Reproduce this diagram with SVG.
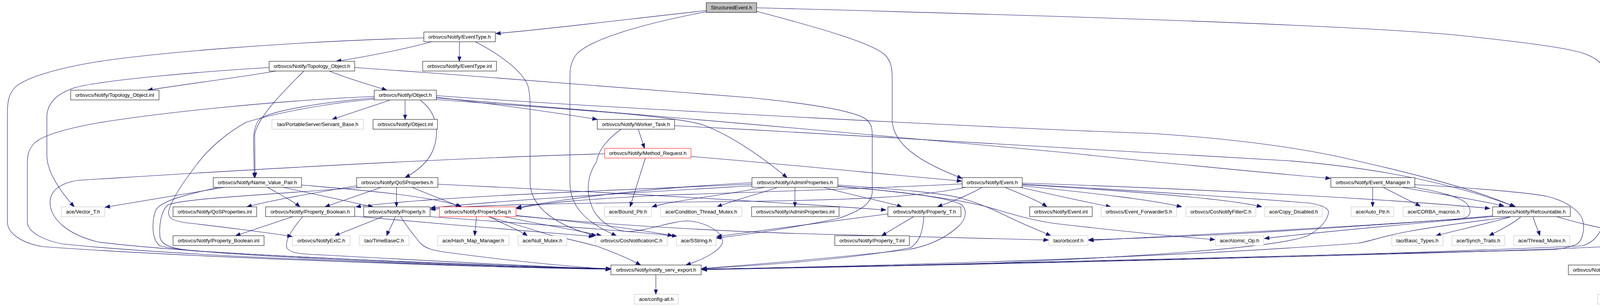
<svg xmlns="http://www.w3.org/2000/svg" width="4500" height="784" viewBox="0 0 4500 784">
<style>
.n rect{fill:#ffffff;stroke:#000000;stroke-width:1}
.g rect{stroke:#bfbfbf}
.r rect{stroke:#ff0000}
.root rect{fill:#bfbfbf}
text{font-family:"Liberation Sans",Arial,sans-serif;font-size:13.2px;text-anchor:middle;fill:#000000}
.e path{fill:none;stroke:#191970;stroke-width:1.1;marker-end:url(#a)}
</style>
<defs>
<marker id="a" markerUnits="userSpaceOnUse" markerWidth="14" markerHeight="11" refX="12.5" refY="4.75" orient="auto"><path d="M0,0L12.5,4.75L0,9.5z" fill="#191970" stroke="#191970" stroke-width="1"/></marker>
</defs>
<rect width="4500" height="784" fill="#ffffff"/>
<g id="connectors" class="e">
<path d="M1808,27 C1600,50 1400,75 1269,86"/>
<path d="M1808,30 C1650,60 1510,100 1475,140 C1461,160 1459,175 1459,200 L1459,470 C1460,530 1500,570 1578,604"/>
<path d="M1937,29 C2110,75 2230,110 2265,140 C2282,158 2284,175 2284,200 L2284,310 C2288,380 2380,425 2463,457"/>
<path d="M1937,20 C2500,35 3400,60 3720,89 C3900,108 4010,122 4055,137 C4090,150 4107,165 4107,190 L4107,545 C4106,590 4085,620 4050,630 C3400,660 2300,680 1796,690"/>
<path d="M1085,97 C700,108 380,138 250,158 C140,176 55,202 35,228 C22,244 19,262 19,290 L19,570 C20,600 60,624 110,632 C500,660 1200,684 1563,690"/>
<path d="M1105,107 C1040,125 940,145 861,157"/>
<path d="M1176,107 L1176,157"/>
<path d="M1217,107 C1290,145 1345,190 1353,225 C1357,245 1357,260 1357,280 L1357,470 C1360,530 1420,578 1526,604"/>
<path d="M707,182 C600,200 480,215 378,231"/>
<path d="M843,182 C900,205 950,218 990,231"/>
<path d="M778,182 C720,240 660,300 652,345 L653,455"/>
<path d="M689,173 C520,183 260,205 190,225 C140,242 120,268 120,300 L120,400 C121,440 150,485 190,530"/>
<path d="M908,173 C1300,200 1750,235 1918,250 C2120,270 2200,290 2220,308 C2233,320 2233,335 2233,350 L2233,490 C2233,520 2205,540 2145,560 C2000,590 1900,602 1834,610"/>
<path d="M958,247 C700,258 400,290 250,315 C150,333 100,352 85,370 C72,386 70,400 70,420 L70,570 C72,595 110,615 160,625 C500,660 1200,682 1563,689"/>
<path d="M958,251 C820,262 690,285 665,305 C652,320 649,340 649,360 L651,455"/>
<path d="M958,254 C860,262 720,285 631,313 C580,340 530,385 505,420 C470,465 440,510 432,540 C428,560 445,565 470,570 C560,580 700,598 748,606"/>
<path d="M997,257 L850,306"/>
<path d="M1037,257 L1037,306"/>
<path d="M1076,257 C1115,285 1125,330 1112,375 C1100,415 1065,440 1037,455"/>
<path d="M1117,249 C1250,265 1400,285 1529,306"/>
<path d="M1117,255 C1450,280 1720,295 1800,320 C1880,350 1960,410 2015,455"/>
<path d="M1117,245 C1600,280 2600,330 2950,342 C3150,355 3300,375 3420,400 C3600,440 3780,485 3877,530"/>
<path d="M1117,251 C1800,305 2500,370 2738,392 C3000,420 3300,448 3406,457"/>
<path d="M1634,331 C1640,350 1645,365 1650,380"/>
<path d="M1727,322 C2300,352 2900,385 3300,412 C3500,428 3700,462 3880,530"/>
<path d="M1590,331 C1550,360 1530,390 1527,415 C1500,455 1500,500 1520,540 C1540,575 1580,593 1610,593 C1660,591 1720,566 1760,566 C1800,568 1845,590 1850,615 C1852,640 1800,665 1756,679"/>
<path d="M1548,394 C1000,410 400,450 200,462 C150,470 128,490 128,520 C130,560 170,600 251,620 C500,652 1200,680 1563,688"/>
<path d="M1652,405 L1613,530"/>
<path d="M1769,401 C1950,415 2250,445 2462,464"/>
<path d="M574,480 L269,531"/>
<path d="M685,480 C720,500 750,515 768,530"/>
<path d="M725,480 L955,530"/>
<path d="M560,480 C470,500 410,515 398,540 C388,570 388,615 410,630 C480,650 1000,676 1563,690"/>
<path d="M772,474 C900,485 1100,500 1182,530"/>
<path d="M913,476 C800,495 700,512 632,530"/>
<path d="M976,480 L832,530"/>
<path d="M1015,480 L1015,530"/>
<path d="M926,480 C700,498 470,508 430,525 C412,540 406,580 410,610 C415,628 440,638 500,643 C900,668 1300,680 1563,690"/>
<path d="M1055,480 C1090,495 1130,510 1179,530"/>
<path d="M1121,472 C1500,490 1900,512 2268,538"/>
<path d="M750,555 L603,604"/>
<path d="M775,555 C745,590 728,620 735,636 C745,648 765,650 800,652 C1000,662 1300,680 1563,690"/>
<path d="M908,554 C1100,572 1400,595 1520,606"/>
<path d="M980,555 L857,604"/>
<path d="M1012,555 C1005,575 995,590 990,604"/>
<path d="M1026,555 C1040,580 1062,605 1075,622 C1090,638 1112,642 1140,646 C1300,668 1450,682 1563,690"/>
<path d="M1101,555 C1300,570 1600,590 1733,605"/>
<path d="M1220,555 L1215,604"/>
<path d="M1253,555 C1290,575 1330,590 1350,604"/>
<path d="M1291,555 C1380,575 1480,590 1540,604"/>
<path d="M1321,552 C1500,570 1650,590 1722,604"/>
<path d="M1250,555 C1320,575 1370,590 1400,600 C1450,612 1500,622 1534,633 C1580,650 1615,665 1640,679"/>
<path d="M1321,553 C1600,580 1900,595 2100,600 C2350,605 2550,610 2684,615"/>
<path d="M1925,468 C1700,480 1500,500 1322,532"/>
<path d="M1925,472 C1500,490 1100,505 911,530"/>
<path d="M1925,476 C1600,495 1300,512 1102,533"/>
<path d="M2463,471 C2250,482 1950,492 1700,500 C1500,510 1380,520 1322,535"/>
<path d="M2472,480 C2350,505 2200,512 1900,516 C1500,520 1200,524 1102,537"/>
<path d="M1957,480 C1850,500 1720,515 1669,530"/>
<path d="M1990,480 C1950,495 1880,512 1836,530"/>
<path d="M2035,480 L2035,530"/>
<path d="M2109,480 C2180,500 2260,515 2309,530"/>
<path d="M2145,474 C2300,485 2420,495 2465,509 C2520,525 2560,545 2580,555 C2620,575 2660,590 2690,604"/>
<path d="M2145,477 C2300,490 2450,510 2523,529 C2570,542 2620,560 2695,572 C2850,590 3000,605 3110,614"/>
<path d="M2145,478 C2300,490 2430,505 2462,525 C2478,540 2472,565 2451,582 C2420,610 2380,630 2322,640 C2100,665 1900,680 1797,688"/>
<path d="M2339,555 L2257,604"/>
<path d="M2365,555 C2363,590 2355,620 2330,635 C2200,660 2000,677 1797,688"/>
<path d="M2273,548 C2100,570 1950,590 1835,606"/>
<path d="M2514,480 C2480,500 2440,515 2400,530"/>
<path d="M2573,480 C2620,500 2660,515 2680,530"/>
<path d="M2612,480 C2700,500 2780,518 2844,530"/>
<path d="M2617,476 C2800,495 2950,512 3025,530"/>
<path d="M2617,473 C2900,490 3150,510 3230,530"/>
<path d="M2617,469 C3000,482 3500,505 3814,534"/>
<path d="M2617,472 C2950,490 3250,512 3350,520 C3390,526 3402,535 3401,545 C3398,565 3380,585 3350,603 C3300,625 3100,650 2500,676 C2200,684 1950,688 1797,689"/>
<path d="M3514,480 L3514,530"/>
<path d="M3541,480 C3570,495 3600,510 3636,528"/>
<path d="M3590,480 C3700,500 3800,515 3850,528"/>
<path d="M3621,473 C3750,480 3911,493 3960,503 C4010,515 4045,540 4052,565 C4058,590 4050,620 4034,627 C4010,636 3985,640 3962,640 C3500,655 2600,675 1797,690"/>
<path d="M3620,480 C3680,490 3740,505 3755,522 C3768,537 3765,552 3753,557 C3735,563 3720,563 3707,563 C3400,585 3000,605 2787,616"/>
<path d="M3821,553 C3700,565 3400,585 3200,597 C3050,605 2900,612 2787,614"/>
<path d="M3821,555 C3650,570 3400,592 3237,611"/>
<path d="M3866,556 C3750,570 3650,585 3605,593 C3540,605 3500,620 3477,623 C3000,660 2300,680 1797,690"/>
<path d="M3866,556 C3800,575 3720,592 3676,604"/>
<path d="M3893,556 C3870,575 3835,592 3812,604"/>
<path d="M3925,556 C3930,575 3938,590 3942,604"/>
<path d="M3985,555 C4050,575 4120,590 4210,604"/>
<path d="M4249,629 C4230,650 4210,665 4171,679"/>
<path d="M4297,629 C4320,650 4340,665 4372,679"/>
<path d="M4146,704 L4146,754"/>
<path d="M4144,630 C3900,645 2800,672 1797,691"/>
<path d="M1679,704 L1679,754"/>
</g>
<g id="n_SE" class="n root"><rect x="1808" y="7" width="129" height="25"/><text x="1872.5" y="24">StructuredEvent.h</text></g>
<g id="n_ET" class="n"><rect x="1085" y="82" width="183" height="25"/><text x="1176.5" y="99">orbsvcs/Notify/EventType.h</text></g>
<g id="n_ETI" class="n"><rect x="1082" y="157" width="189" height="25"/><text x="1176.5" y="174">orbsvcs/Notify/EventType.inl</text></g>
<g id="n_TO" class="n"><rect x="689" y="157" width="219" height="25"/><text x="798.5" y="174">orbsvcs/Notify/Topology_Object.h</text></g>
<g id="n_TOI" class="n"><rect x="181" y="231" width="226" height="25"/><text x="294" y="248">orbsvcs/Notify/Topology_Object.inl</text></g>
<g id="n_OB" class="n"><rect x="958" y="231" width="159" height="25"/><text x="1037.5" y="248">orbsvcs/Notify/Object.h</text></g>
<g id="n_SB" class="n g"><rect x="696" y="306" width="235" height="25"/><text x="813.5" y="323">tao/PortableServer/Servant_Base.h</text></g>
<g id="n_OBI" class="n"><rect x="955" y="306" width="165" height="25"/><text x="1037.5" y="323">orbsvcs/Notify/Object.inl</text></g>
<g id="n_WT" class="n"><rect x="1529" y="306" width="198" height="25"/><text x="1628" y="323">orbsvcs/Notify/Worker_Task.h</text></g>
<g id="n_MR" class="n r"><rect x="1548" y="380" width="221" height="25"/><text x="1658.5" y="397">orbsvcs/Notify/Method_Request.h</text></g>
<g id="n_NVP" class="n"><rect x="546" y="455" width="226" height="25"/><text x="659" y="472">orbsvcs/Notify/Name_Value_Pair.h</text></g>
<g id="n_QP" class="n"><rect x="913" y="455" width="208" height="25"/><text x="1017" y="472">orbsvcs/Notify/QoSProperties.h</text></g>
<g id="n_AP" class="n"><rect x="1925" y="455" width="220" height="25"/><text x="2035" y="472">orbsvcs/Notify/AdminProperties.h</text></g>
<g id="n_EV" class="n"><rect x="2463" y="455" width="154" height="25"/><text x="2540" y="472">orbsvcs/Notify/Event.h</text></g>
<g id="n_EM" class="n"><rect x="3407" y="455" width="215" height="25"/><text x="3514.5" y="472">orbsvcs/Notify/Event_Manager.h</text></g>
<g id="n_VT" class="n g"><rect x="157" y="530" width="111" height="25"/><text x="212.5" y="547">ace/Vector_T.h</text></g>
<g id="n_QPI" class="n"><rect x="443" y="530" width="214" height="25"/><text x="550" y="547">orbsvcs/Notify/QoSProperties.inl</text></g>
<g id="n_PB" class="n"><rect x="680" y="530" width="228" height="25"/><text x="794" y="547">orbsvcs/Notify/Property_Boolean.h</text></g>
<g id="n_PR" class="n"><rect x="931" y="530" width="170" height="25"/><text x="1016" y="547">orbsvcs/Notify/Property.h</text></g>
<g id="n_PS" class="n r"><rect x="1125" y="530" width="196" height="25"/><text x="1223" y="547">orbsvcs/Notify/PropertySeq.h</text></g>
<g id="n_BP" class="n g"><rect x="1547" y="530" width="121" height="25"/><text x="1607.5" y="547">ace/Bound_Ptr.h</text></g>
<g id="n_CTM" class="n g"><rect x="1691" y="530" width="208" height="25"/><text x="1795" y="547">ace/Condition_Thread_Mutex.h</text></g>
<g id="n_API" class="n"><rect x="1924" y="530" width="224" height="25"/><text x="2036" y="547">orbsvcs/Notify/AdminProperties.inl</text></g>
<g id="n_PT" class="n"><rect x="2273" y="530" width="187" height="25"/><text x="2366.5" y="547">orbsvcs/Notify/Property_T.h</text></g>
<g id="n_EVI" class="n"><rect x="2636" y="530" width="160" height="25"/><text x="2716" y="547">orbsvcs/Notify/Event.inl</text></g>
<g id="n_EFS" class="n g"><rect x="2819" y="530" width="193" height="25"/><text x="2915.5" y="547">orbsvcs/Event_ForwarderS.h</text></g>
<g id="n_CNF" class="n g"><rect x="3036" y="530" width="179" height="25"/><text x="3125.5" y="547">orbsvcs/CosNotifyFilterC.h</text></g>
<g id="n_CD" class="n g"><rect x="3238" y="530" width="147" height="25"/><text x="3311.5" y="547">ace/Copy_Disabled.h</text></g>
<g id="n_AUP" class="n g"><rect x="3459" y="530" width="109" height="25"/><text x="3513.5" y="547">ace/Auto_Ptr.h</text></g>
<g id="n_CM" class="n g"><rect x="3592" y="530" width="156" height="25"/><text x="3670" y="547">ace/CORBA_macros.h</text></g>
<g id="n_RC" class="n"><rect x="3821" y="530" width="199" height="25"/><text x="3920.5" y="547">orbsvcs/Notify/Refcountable.h</text></g>
<g id="n_PBI" class="n"><rect x="443" y="604" width="233" height="25"/><text x="559.5" y="621">orbsvcs/Notify/Property_Boolean.inl</text></g>
<g id="n_NEC" class="n g"><rect x="749" y="604" width="147" height="25"/><text x="822.5" y="621">orbsvcs/NotifyExtC.h</text></g>
<g id="n_TBC" class="n g"><rect x="920" y="604" width="127" height="25"/><text x="983.5" y="621">tao/TimeBaseC.h</text></g>
<g id="n_HMM" class="n g"><rect x="1120" y="604" width="183" height="25"/><text x="1211.5" y="621">ace/Hash_Map_Manager.h</text></g>
<g id="n_NM" class="n g"><rect x="1326" y="604" width="125" height="25"/><text x="1388.5" y="621">ace/Null_Mutex.h</text></g>
<g id="n_CNC" class="n g"><rect x="1525" y="604" width="183" height="25"/><text x="1616.5" y="621">orbsvcs/CosNotificationC.h</text></g>
<g id="n_SS" class="n g"><rect x="1732" y="604" width="101" height="25"/><text x="1782.5" y="621">ace/SString.h</text></g>
<g id="n_PTI" class="n"><rect x="2137" y="604" width="191" height="25"/><text x="2232.5" y="621">orbsvcs/Notify/Property_T.inl</text></g>
<g id="n_OC" class="n g"><rect x="2685" y="604" width="100" height="25"/><text x="2735" y="621">tao/orbconf.h</text></g>
<g id="n_AO" class="n g"><rect x="3111" y="604" width="124" height="25"/><text x="3173" y="621">ace/Atomic_Op.h</text></g>
<g id="n_BT" class="n g"><rect x="3563" y="604" width="131" height="25"/><text x="3628.5" y="621">tao/Basic_Types.h</text></g>
<g id="n_ST" class="n g"><rect x="3717" y="604" width="135" height="25"/><text x="3784.5" y="621">ace/Synch_Traits.h</text></g>
<g id="n_TM" class="n g"><rect x="3875" y="604" width="144" height="25"/><text x="3947" y="621">ace/Thread_Mutex.h</text></g>
<g id="n_RGT" class="n"><rect x="4144" y="604" width="257" height="25"/><text x="4272.5" y="621">orbsvcs/Notify/Refcountable_Guard_T.h</text></g>
<g id="n_NSE" class="n"><rect x="1564" y="679" width="231" height="25"/><text x="1679.5" y="696">orbsvcs/Notify/notify_serv_export.h</text></g>
<g id="n_RGI" class="n"><rect x="4015" y="679" width="262" height="25"/><text x="4146" y="696">orbsvcs/Notify/Refcountable_Guard_T.inl</text></g>
<g id="n_VN" class="n g"><rect x="4301" y="679" width="194" height="25"/><text x="4398" y="696">tao/Versioned_Namespace.h</text></g>
<g id="n_CA" class="n g"><rect x="1624" y="754" width="112" height="25"/><text x="1680" y="771">ace/config-all.h</text></g>
<g id="n_LM" class="n g"><rect x="4090" y="754" width="112" height="25"/><text x="4146" y="771">ace/Log_Msg.h</text></g>
</svg>
